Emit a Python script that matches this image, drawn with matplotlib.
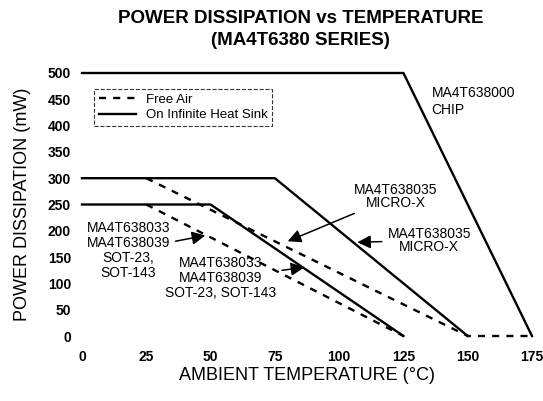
import matplotlib
matplotlib.use('Agg')
import matplotlib.pyplot as plt

plt.rcParams['font.family'] = ['Liberation Sans', 'DejaVu Sans']

# derating curves (temperature in °C, power in mW)
chip_t = [0, 125, 175]
chip_p = [500, 500, 0]
microx_sink_t = [0, 75, 150]
microx_sink_p = [300, 300, 0]
microx_air_t = [25, 150, 175]
microx_air_p = [300, 0, 0]
sot_sink_t = [0, 50, 125]
sot_sink_p = [250, 250, 0]
sot_air_t = [25, 125]
sot_air_p = [250, 0]

x_ticks = [0, 25, 50, 75, 100, 125, 150, 175]
y_ticks = [0, 50, 100, 150, 200, 250, 300, 350, 400, 450, 500]

fig = plt.figure(figsize=(5.43, 4.01), dpi=100)
ax = fig.add_axes([82/543, 1-336/401, 450/543, 263/401])

dash = (0, (3, 3))
ax.plot(microx_air_t, microx_air_p, color='black', lw=1.7, linestyle=dash, clip_on=False, label='Free Air')
ax.plot(chip_t, chip_p, color='black', lw=1.7, clip_on=False, label='On Infinite Heat Sink')
ax.plot(microx_sink_t, microx_sink_p, color='black', lw=1.7, clip_on=False)
ax.plot(sot_sink_t, sot_sink_p, color='black', lw=1.7, clip_on=False)
ax.plot(sot_air_t, sot_air_p, color='black', lw=1.7, linestyle=dash, clip_on=False)

ax.set_xlim(0, 175)
ax.set_ylim(0, 500)
ax.set_xticks(x_ticks)
ax.set_yticks(y_ticks)
ax.tick_params(length=0, labelsize=10, pad=8)
ax.tick_params(axis='x', pad=10)
for lbl in ax.get_xticklabels() + ax.get_yticklabels():
    lbl.set_fontweight('bold')
for s in ax.spines.values():
    s.set_visible(False)

leg = ax.legend(loc='upper left', bbox_to_anchor=(0.012, 0.965), fontsize=9.5, frameon=True,
                fancybox=False, handlelength=2.8, borderpad=0.35, labelspacing=0.25)
leg.get_frame().set_edgecolor('black')
leg.get_frame().set_linestyle('--')
leg.get_frame().set_linewidth(0.8)

ax.set_xlabel('AMBIENT TEMPERATURE (°C)', fontsize=13, labelpad=2)
ax.set_ylabel('POWER DISSIPATION (mW)', fontsize=13, labelpad=12)

fig.text(0.553, 0.955, 'POWER DISSIPATION vs TEMPERATURE', ha='center', va='center',
         fontsize=13.5, fontweight='bold')
fig.text(0.553, 0.898, '(MA4T6380 SERIES)', ha='center', va='center',
         fontsize=13.5, fontweight='bold')

ax.text(136, 476, 'MA4T638000\nCHIP', fontsize=10, ha='left', va='top', linespacing=1.3)

arrow = dict(arrowstyle='-|>', color='black', lw=1.1, mutation_scale=20)
ax.annotate('MA4T638035\nMICRO-X', xy=(79, 178), xytext=(122, 266), fontsize=10,
            ha='center', va='center', linespacing=0.9, arrowprops=arrow)
ax.annotate('MA4T638035\nMICRO-X', xy=(106, 178), xytext=(135, 182), fontsize=10,
            ha='center', va='center', linespacing=0.9, arrowprops=arrow)
ax.annotate('MA4T638033\nMA4T638039\nSOT-23,\nSOT-143', xy=(49, 192), xytext=(18, 163),
            fontsize=10, ha='center', va='center', linespacing=1.1, arrowprops=arrow)
ax.annotate('MA4T638033\nMA4T638039\nSOT-23, SOT-143', xy=(87.5, 131), xytext=(54, 110),
            fontsize=10, ha='center', va='center', linespacing=1.1, arrowprops=arrow)

fig.savefig('out.png', dpi=100)
